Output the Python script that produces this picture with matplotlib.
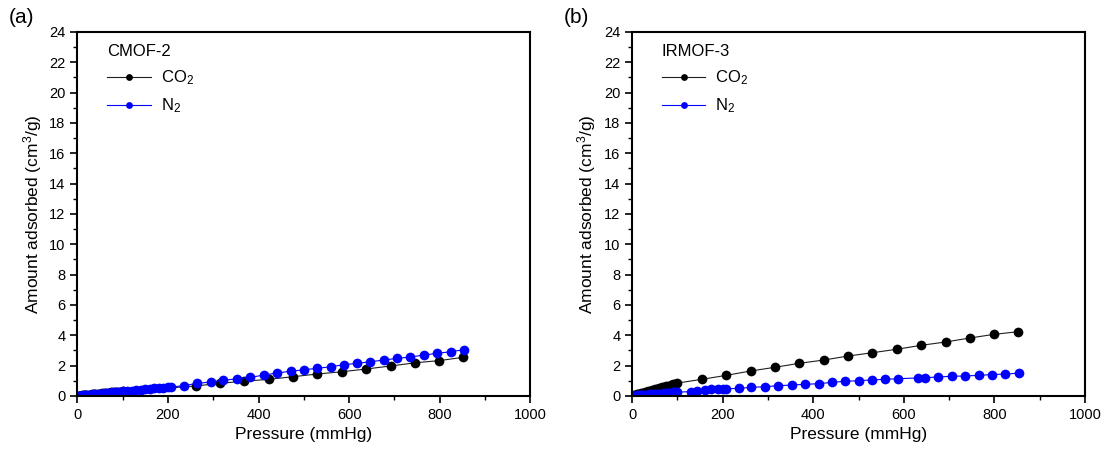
import matplotlib
matplotlib.use("Agg")
import matplotlib.pyplot as plt
from matplotlib.ticker import MultipleLocator

plt.rcParams['font.family'] = ['Liberation Sans', 'DejaVu Sans']
plt.rcParams['mathtext.fontset'] = 'custom'
plt.rcParams['mathtext.rm'] = 'Liberation Sans'
plt.rcParams['mathtext.it'] = 'Liberation Sans:italic'
plt.rcParams['mathtext.default'] = 'regular'

# CMOF-2 isotherms (pressure in mmHg, amount in cm3/g)
cmof_co2_p = [1, 3, 5, 8, 11, 14, 17, 20, 24, 28, 32, 36, 40, 45, 50, 55, 60, 65, 70, 75, 80, 85, 90, 95, 100,
              262, 315, 368, 423, 476, 530, 584, 638, 692, 746, 798, 852]
cmof_co2_a = [0.00, 0.01, 0.02, 0.03, 0.04, 0.05, 0.06, 0.07, 0.08, 0.09, 0.10, 0.11, 0.12, 0.14, 0.15, 0.17,
              0.18, 0.20, 0.21, 0.23, 0.24, 0.26, 0.27, 0.29, 0.30,
              0.66, 0.84, 0.97, 1.10, 1.27, 1.45, 1.60, 1.78, 1.98, 2.19, 2.33, 2.55]
cmof_n2_p = [2, 5, 8, 12, 16, 20, 25, 30, 35, 40, 46, 52, 58, 64, 70, 76, 82, 88, 94, 100,
             110, 120, 130, 140, 150, 160, 170, 180, 190, 199, 207,
             235, 263, 294, 322, 353, 382, 412, 441, 471, 500, 529, 559, 588, 618, 647, 676, 706, 735,
             765, 794, 824, 853]
cmof_n2_a = [0.01, 0.02, 0.03, 0.04, 0.05, 0.06, 0.08, 0.09, 0.11, 0.12, 0.14, 0.16, 0.18, 0.19, 0.21, 0.23,
             0.25, 0.26, 0.28, 0.30, 0.33, 0.36, 0.39, 0.42, 0.45, 0.47, 0.50, 0.53, 0.55, 0.57, 0.59,
             0.68, 0.83, 0.92, 1.03, 1.14, 1.23, 1.38, 1.52, 1.63, 1.73, 1.82, 1.93, 2.06, 2.15, 2.26,
             2.37, 2.48, 2.57, 2.70, 2.81, 2.92, 3.05]

# IRMOF-3 isotherms
irmof_co2_p = [1, 3, 5, 8, 11, 14, 17, 20, 24, 28, 32, 36, 40, 45, 50, 55, 60, 65, 70, 75, 80, 85, 90, 95, 100,
               154, 208, 262, 315, 368, 423, 476, 530, 584, 638, 692, 745, 798, 852]
irmof_co2_a = [0.01, 0.03, 0.05, 0.08, 0.10, 0.13, 0.16, 0.18, 0.22, 0.25, 0.29, 0.32, 0.36, 0.40, 0.44,
               0.48, 0.52, 0.56, 0.60, 0.65, 0.69, 0.73, 0.77, 0.81, 0.85,
               1.10, 1.36, 1.65, 1.89, 2.15, 2.37, 2.63, 2.85, 3.08, 3.34, 3.56, 3.82, 4.06, 4.24]
irmof_n2_p = [1, 3, 5, 8, 11, 14, 17, 20, 24, 28, 32, 36, 40, 45, 50, 55, 60, 65, 70, 75, 80, 85, 90, 95, 100,
              129, 143, 160, 175, 190, 201, 208, 235, 263, 294, 322, 353, 382, 412, 441, 471, 500, 529,
              559, 588, 631, 647, 676, 706, 735, 765, 794, 824, 853]
irmof_n2_a = [0.00, 0.01, 0.01, 0.02, 0.03, 0.04, 0.05, 0.05, 0.06, 0.07, 0.08, 0.09, 0.10, 0.11, 0.13,
              0.14, 0.15, 0.16, 0.18, 0.19, 0.20, 0.21, 0.23, 0.24, 0.25,
              0.29, 0.35, 0.39, 0.44, 0.46, 0.48, 0.48, 0.50, 0.57, 0.61, 0.68, 0.72, 0.77, 0.81, 0.90,
              0.97, 1.01, 1.06, 1.10, 1.14, 1.19, 1.21, 1.25, 1.30, 1.32, 1.36, 1.41, 1.45, 1.50]

panels = [
    ('(a)', 'CMOF-2', cmof_co2_p, cmof_co2_a, cmof_n2_p, cmof_n2_a, 0.070),
    ('(b)', 'IRMOF-3', irmof_co2_p, irmof_co2_a, irmof_n2_p, irmof_n2_a, 0.572),
]

fig = plt.figure(figsize=(11.05, 4.55), dpi=100)

for tag, name, cp, ca, np_, na, left in panels:
    ax = fig.add_axes([left, 0.1297, 0.410, 0.800])
    ax.plot(cp, ca, color='#202020', marker='o', markersize=7, linewidth=0.8,
            markerfacecolor='black', markeredgewidth=0, label='CO$_2$')
    ax.plot(np_, na, color='#0000ff', marker='o', markersize=7, linewidth=0.8,
            markeredgewidth=0, label='N$_2$')
    ax.set_xlim(0, 1000)
    ax.set_ylim(0, 24)
    ax.xaxis.set_major_locator(MultipleLocator(200))
    ax.xaxis.set_minor_locator(MultipleLocator(100))
    ax.yaxis.set_major_locator(MultipleLocator(2))
    ax.yaxis.set_minor_locator(MultipleLocator(1))
    ax.tick_params(which='major', direction='out', length=5, width=1.2, labelsize=10.5)
    ax.tick_params(which='minor', direction='out', length=3, width=1.0)
    for s in ax.spines.values():
        s.set_linewidth(1.5)
    ax.set_xlabel('Pressure (mmHg)', fontsize=12.5)
    ax.set_ylabel('Amount adsorbed (cm$^3$/g)', fontsize=12.5)
    ax.legend(title=name, loc='upper left', bbox_to_anchor=(0.066, 0.966), frameon=False,
              fontsize=12, title_fontsize=12, markerscale=0.7, handlelength=2.6,
              handletextpad=0.6, labelspacing=0.55, alignment='left', borderaxespad=0,
              borderpad=0)
    fig.text(left - 0.062, 0.94, tag, fontsize=15, ha='left', va='bottom')

fig.savefig('out.png', dpi=100)
